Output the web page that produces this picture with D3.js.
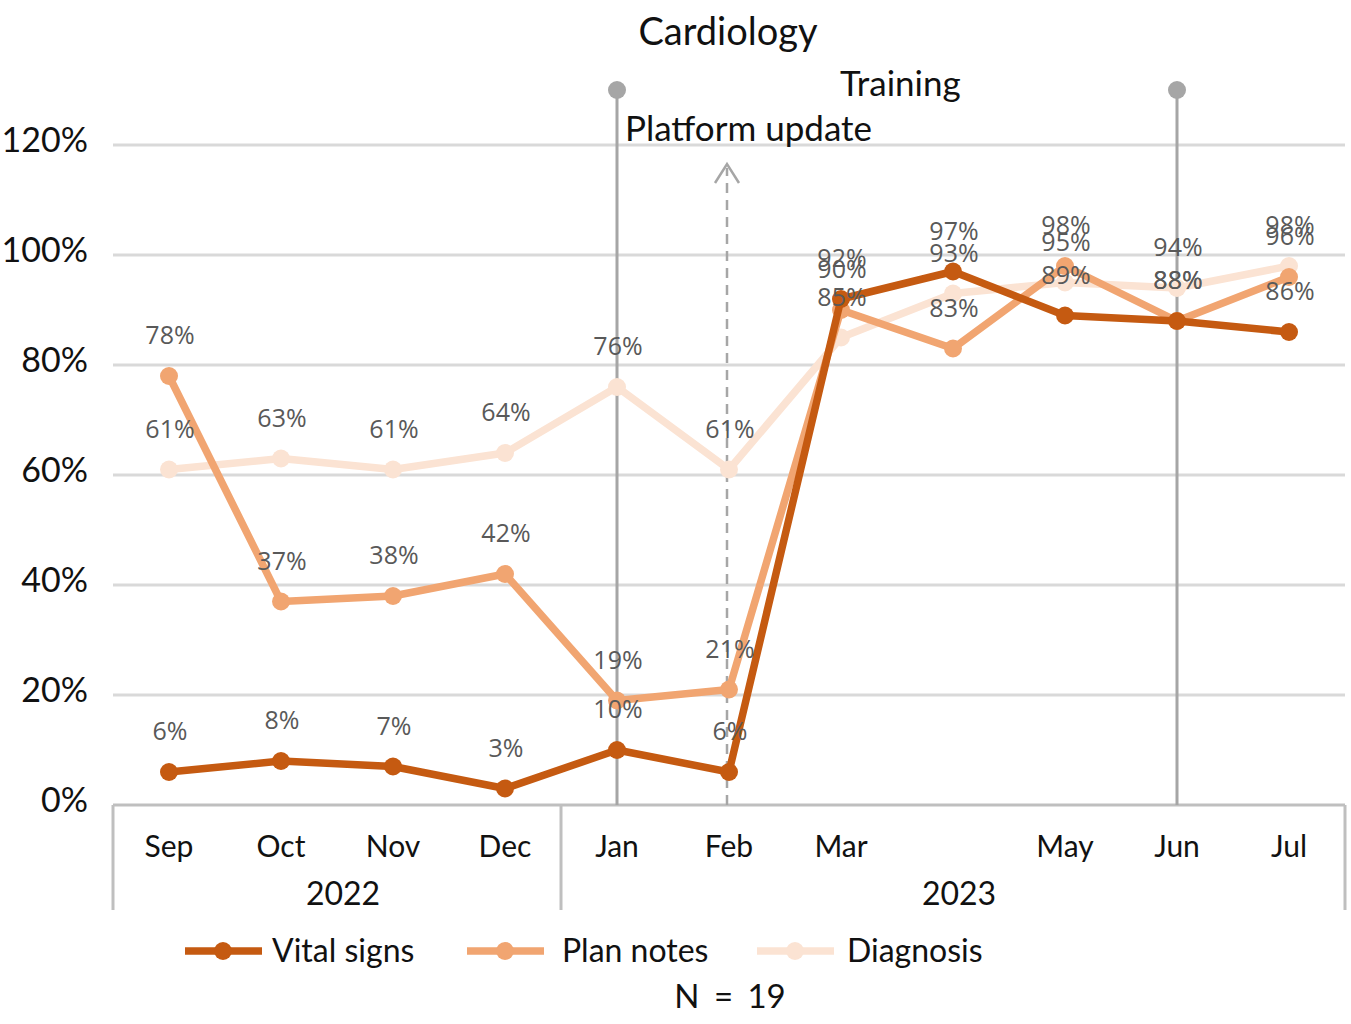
<!DOCTYPE html>
<html>
<head>
<meta charset="utf-8">
<script src="https://cdn.jsdelivr.net/npm/d3@7"></script>
<style>
  body { margin: 0; background: #fff; }
  svg { display: block; }
</style>
</head>
<body>
<div id="chart"></div>
<script>
// chart values
const months = ["Sep", "Oct", "Nov", "Dec", "Jan", "Feb", "Mar", "Apr", "May", "Jun", "Jul"];
const monthLabels = ["Sep", "Oct", "Nov", "Dec", "Jan", "Feb", "Mar", "", "May", "Jun", "Jul"];
const years = [
  { label: "2022", from: "Sep", to: "Dec" },
  { label: "2023", from: "Jan", to: "Jul" }
];
const vitalSigns = [0.06, 0.08, 0.07, 0.03, 0.10, 0.06, 0.92, 0.97, 0.89, 0.88, 0.86];
const planNotes  = [0.78, 0.37, 0.38, 0.42, 0.19, 0.21, 0.90, 0.83, 0.98, 0.88, 0.96];
const diagnosis  = [0.61, 0.63, 0.61, 0.64, 0.76, 0.61, 0.85, 0.93, 0.95, 0.94, 0.98];
const yTicks = [0, 0.2, 0.4, 0.6, 0.8, 1.0, 1.2];

const series = [
  { name: "Diagnosis",   values: diagnosis,  color: "#fbe3d3" },
  { name: "Plan notes",  values: planNotes,  color: "#f1a571" },
  { name: "Vital signs", values: vitalSigns, color: "#c55a11" }
];
const legendOrder = ["Vital signs", "Plan notes", "Diagnosis"];

const width = 1351, height = 1024;
const plotLeft = 113, plotRight = 1345, plotTop = 145, plotBottom = 805;

const svg = d3.select("#chart").append("svg")
  .attr("width", width)
  .attr("height", height);

const x = d3.scaleBand().domain(months).range([plotLeft, plotRight]).padding(0);
const xc = m => x(m) + x.bandwidth() / 2;
const y = d3.scaleLinear().domain([0, 1.2]).range([plotBottom, plotTop]);

const axisFont = "Lato, 'Open Sans', sans-serif";
const labelFont = "'Open Sans', 'Noto Sans', sans-serif";

// gridlines
svg.append("g")
  .selectAll("line")
  .data(yTicks.slice(1))
  .join("line")
  .attr("x1", plotLeft).attr("x2", plotRight)
  .attr("y1", d => y(d)).attr("y2", d => y(d))
  .attr("stroke", "#d9d9d9")
  .attr("stroke-width", 3);

// y labels
svg.append("g")
  .selectAll("text")
  .data(yTicks)
  .join("text")
  .attr("x", 88)
  .attr("y", d => y(d) + 7)
  .attr("text-anchor", "end")
  .style("font-family", axisFont)
  .style("font-size", "34px")
  .attr("fill", "#111")
  .text(d3.format(".0%"));

// x axis line + group separators
svg.append("line")
  .attr("x1", plotLeft).attr("x2", plotRight)
  .attr("y1", plotBottom).attr("y2", plotBottom)
  .attr("stroke", "#bfbfbf")
  .attr("stroke-width", 3);

const seps = [x(years[0].from), x(years[1].from), x(years[1].to) + x.bandwidth()];
svg.append("g")
  .selectAll("line")
  .data(seps)
  .join("line")
  .attr("x1", d => d).attr("x2", d => d)
  .attr("y1", plotBottom).attr("y2", 910)
  .attr("stroke", "#bfbfbf")
  .attr("stroke-width", 3);

svg.append("g")
  .selectAll("text")
  .data(months)
  .join("text")
  .attr("x", d => xc(d))
  .attr("y", 857)
  .attr("text-anchor", "middle")
  .style("font-family", axisFont)
  .style("font-size", "30px")
  .attr("fill", "#111")
  .text((d, i) => monthLabels[i]);

svg.append("g")
  .selectAll("text")
  .data(years)
  .join("text")
  .attr("x", d => (x(d.from) + x(d.to) + x.bandwidth()) / 2 + 6)
  .attr("y", 905)
  .attr("text-anchor", "middle")
  .style("font-family", axisFont)
  .style("font-size", "32px")
  .attr("fill", "#111")
  .text(d => d.label);

// event markers: solid lines at Jan and Jun
const eventLines = ["Jan", "Jun"];
eventLines.forEach(m => {
  svg.append("line")
    .attr("x1", xc(m)).attr("x2", xc(m))
    .attr("y1", 90).attr("y2", plotBottom)
    .attr("stroke", "#a6a6a6")
    .attr("stroke-width", 3);
  svg.append("circle")
    .attr("cx", xc(m)).attr("cy", 90)
    .attr("r", 9)
    .attr("fill", "#a6a6a6");
});

// dashed arrow at Feb
const fx = xc("Feb") - 2;
svg.append("line")
  .attr("x1", fx).attr("x2", fx)
  .attr("y1", plotBottom).attr("y2", 168)
  .attr("stroke", "#a6a6a6")
  .attr("stroke-width", 2.5)
  .attr("stroke-dasharray", "10,7");
svg.append("path")
  .attr("d", `M${fx - 12},${183} L${fx},${164} L${fx + 12},${183}`)
  .attr("fill", "none")
  .attr("stroke", "#a6a6a6")
  .attr("stroke-width", 2.5);

// annotation texts
svg.append("text")
  .attr("x", 728).attr("y", 45)
  .attr("text-anchor", "middle")
  .style("font-family", axisFont)
  .style("font-size", "38px")
  .attr("fill", "#111")
  .text("Cardiology");
svg.append("text")
  .attr("x", 840).attr("y", 96)
  .style("font-family", axisFont)
  .style("font-size", "35px")
  .attr("fill", "#111")
  .text("Training");
svg.append("text")
  .attr("x", 625).attr("y", 141)
  .style("font-family", axisFont)
  .style("font-size", "35px")
  .attr("fill", "#111")
  .text("Platform update");

// lines + markers
const line = d3.line()
  .x((d, i) => xc(months[i]))
  .y(d => y(d));

series.forEach(s => {
  const g = svg.append("g");
  g.append("path")
    .attr("d", line(s.values))
    .attr("fill", "none")
    .attr("stroke", s.color)
    .attr("stroke-width", 7.5)
    .attr("stroke-linejoin", "round");
  g.selectAll("circle")
    .data(s.values)
    .join("circle")
    .attr("cx", (d, i) => xc(months[i]))
    .attr("cy", d => y(d))
    .attr("r", 9)
    .attr("fill", s.color);
});

// data labels
series.forEach(s => {
  svg.append("g")
    .selectAll("text")
    .data(s.values)
    .join("text")
    .attr("x", (d, i) => xc(months[i]) + 1)
    .attr("y", d => y(d) - 32)
    .attr("text-anchor", "middle")
    .style("font-family", labelFont)
    .style("font-size", "25px")
    .attr("fill", "#595959")
    .text(d3.format(".0%"));
});

// legend
const legendX = { "Vital signs": [185, 272], "Plan notes": [467, 562], "Diagnosis": [757, 847] };
legendOrder.forEach(name => {
  const s = series.find(d => d.name === name);
  const [lx, tx] = legendX[name];
  svg.append("line")
    .attr("x1", lx).attr("x2", lx + 77)
    .attr("y1", 951).attr("y2", 951)
    .attr("stroke", s.color)
    .attr("stroke-width", 7.5);
  svg.append("circle")
    .attr("cx", lx + 38).attr("cy", 951)
    .attr("r", 9)
    .attr("fill", s.color);
  svg.append("text")
    .attr("x", tx).attr("y", 962)
    .style("font-family", axisFont)
    .style("font-size", "32px")
    .attr("fill", "#111")
    .text(name);
});

svg.append("text")
  .attr("x", 730).attr("y", 1008)
  .attr("text-anchor", "middle")
  .style("font-family", axisFont)
  .style("font-size", "33px")
  .style("word-spacing", "6px")
  .attr("fill", "#111")
  .text("N = 19");
</script>
</body>
</html>
